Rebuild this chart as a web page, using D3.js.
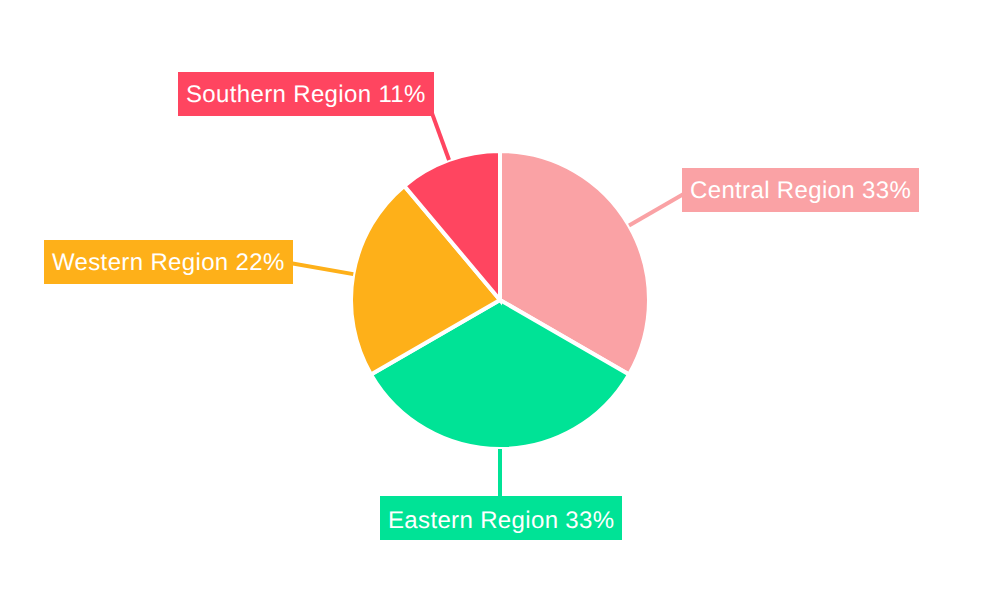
<!DOCTYPE html>
<html>
<head>
<meta charset="utf-8">
<script src="https://cdn.jsdelivr.net/npm/d3@7"></script>
<style>
  html, body { margin: 0; padding: 0; background: #fff; }
  text { font-family: "Liberation Sans", Arial, sans-serif; font-size: 24px; fill: #fff; letter-spacing: 0.35px; text-rendering: geometricPrecision; }
</style>
</head>
<body>
<svg id="chart" width="1000" height="600"></svg>
<script>
var regions = ["Central Region", "Eastern Region", "Western Region", "Southern Region"];
var shares = [3, 3, 2, 1];
var percents = ["33%", "33%", "22%", "11%"];
var colors = ["#faa2a5", "#00e396", "#feb019", "#ff4560"];

var cx = 500, cy = 300, radius = 149;
var lineEnd = 225, pad = 8, boxH = 44;

var svg = d3.select("#chart");
var color = d3.scaleOrdinal().domain(regions).range(colors);

var pie = d3.pie().sort(null).value(function(d, i){ return shares[i]; });
var arc = d3.arc().innerRadius(0).outerRadius(radius);
var slices = pie(regions);

var g = svg.append("g").attr("transform", "translate(" + cx + "," + cy + ")");

g.selectAll("path").data(slices).enter().append("path")
  .attr("d", arc)
  .attr("fill", function(d){ return color(d.data); })
  .attr("stroke", "#fff")
  .attr("stroke-width", 4);

//leader lines start just off the slice and run under the boxes
g.selectAll("line").data(slices).enter().append("line")
  .attr("x1", function(d){ return Math.sin(mid(d)) * radius; })
  .attr("y1", function(d){ return -Math.cos(mid(d)) * radius; })
  .attr("x2", function(d){ return Math.sin(mid(d)) * lineEnd; })
  .attr("y2", function(d){ return -Math.cos(mid(d)) * lineEnd; })
  .attr("stroke", function(d){ return color(d.data); })
  .attr("stroke-width", 4);

function mid(d){ return (d.startAngle + d.endAngle) / 2; }

var labels = g.selectAll("g.label").data(slices).enter().append("g").attr("class", "label");
var rects = labels.append("rect");
var texts = labels.append("text")
  .text(function(d, i){ return d.data + " " + percents[i]; });

//place each box by where its slice points
labels.each(function(d){
  var node = d3.select(this);
  var w = Math.round(node.select("text").node().getComputedTextLength()) + pad * 2;
  var s = Math.sin(mid(d)), c = Math.cos(mid(d));
  var x, y, base = 30;
  if (Math.abs(c) > 0.9) {
    // top and bottom labels hang off r=196
    y = c > 0 ? -c * 196 - boxH : -c * 196;
    x = Math.abs(s) < 0.01 ? -w / 2 + 1 : s * 196 - w + 1;
    if (c < 0) base = 32;
  } else {
    // side labels sit against r=210
    x = s > 0 ? s * 210 : s * 210 - w;
    y = -c * 220 - boxH / 2;
  }
  x = Math.round(x);
  y = Math.round(y);
  node.select("rect").attr("x", x).attr("y", y).attr("width", w).attr("height", boxH)
    .attr("fill", color(d.data));
  node.select("text").attr("x", x + pad).attr("y", y + base);
});
</script>
</body>
</html>
